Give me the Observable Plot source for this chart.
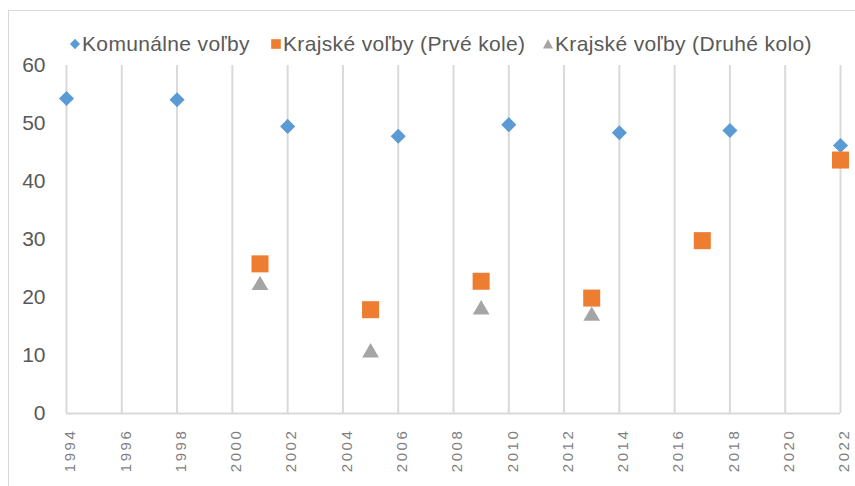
<!DOCTYPE html>
<html>
<head>
<meta charset="utf-8">
<script src="https://cdn.jsdelivr.net/npm/d3@7"></script>
<script src="https://cdn.jsdelivr.net/npm/@observablehq/plot@0.6"></script>
<style>
  html, body { margin: 0; padding: 0; background: #fff; }
  #wrap { position: relative; width: 855px; height: 486px; overflow: hidden; font-family: "Liberation Sans", Arial, sans-serif; }
  #frame { position: absolute; left: 8px; top: 10px; width: 900px; height: 600px; border-left: 1.5px solid #d9d9d9; border-top: 1.5px solid #d9d9d9; box-sizing: border-box; }
  #chart { position: absolute; left: 0; top: 0; }
  .leg { position: absolute; top: 31px; height: 26px; display: flex; align-items: center; font-size: 21px; letter-spacing: 0.35px; color: #595959; white-space: nowrap; }
  .leg svg { margin-right: 2px; }
  g.xlab text { letter-spacing: 2.6px; }
</style>
</head>
<body>
<div id="wrap">
  <div id="frame"></div>
  <div id="chart"></div>
  <div id="legend"></div>
</div>
<script>
const seriesNames = ["Komunálne voľby", "Krajské voľby (Prvé kole)", "Krajské voľby (Druhé kolo)"];
const colors = ["#5B9BD5", "#ED7D31", "#A5A5A5"];

const komYears = [1994, 1998, 2002, 2006, 2010, 2014, 2018, 2022];
const komValues = [54.3, 54.1, 49.5, 47.8, 49.8, 48.4, 48.8, 46.2];

const kraj1Years = [2001, 2005, 2009, 2013, 2017, 2022];
const kraj1Values = [25.8, 17.9, 22.8, 19.9, 29.8, 43.7];

const kraj2Years = [2001, 2005, 2009, 2013];
const kraj2Values = [22.5, 10.9, 18.3, 17.2];

const xTicks = [1994, 1996, 1998, 2000, 2002, 2004, 2006, 2008, 2010, 2012, 2014, 2016, 2018, 2020, 2022];
const yTicks = [0, 10, 20, 30, 40, 50, 60];

const kom = komYears.map((x, i) => ({x, y: komValues[i]}));
const kraj1 = kraj1Years.map((x, i) => ({x, y: kraj1Values[i]}));
const kraj2 = kraj2Years.map((x, i) => ({x, y: kraj2Values[i]}));

const plot = Plot.plot({
  width: 855,
  height: 486,
  marginLeft: 66,
  marginRight: 15,
  marginTop: 65,
  marginBottom: 73,
  style: { background: "transparent", fontFamily: "'Liberation Sans', Arial, sans-serif" },
  x: { domain: [1994, 2022], axis: null },
  y: { domain: [0, 60], axis: null },
  marks: [
    Plot.ruleX(xTicks, { x: d => d, y1: 0, y2: 60, stroke: "#d9d9d9", strokeWidth: 2 }),
    Plot.ruleY([0], { x1: 1994, x2: 2022, stroke: "#d9d9d9", strokeWidth: 2 }),
    Plot.text(yTicks, { x: 1994, y: d => d, text: d => String(d), textAnchor: "end", dx: -21, fontSize: 21, fill: "#595959" }),
    Plot.text(xTicks, { x: d => d, y: 0, text: d => String(d), rotate: -90, textAnchor: "end", dx: 4, dy: 15, fontSize: 15, fill: "#7f7f7f" }),
    Plot.dot(kom, { x: "x", y: "y", symbol: "diamond2", r: 6.8, fill: colors[0], stroke: "none" }),
    Plot.dot(kraj1, { x: "x", y: "y", symbol: "square", r: 9.6, fill: colors[1], stroke: "none" }),
    Plot.dot(kraj2, { x: "x", y: "y", symbol: "triangle", r: 6.2, fill: colors[2], stroke: "none", dy: 2.3 })
  ]
});
document.getElementById("chart").appendChild(plot);

// letter-spacing on x tick labels
plot.querySelectorAll("g").forEach(g => {
  if (g.getAttribute("font-size") === "15") g.classList.add("xlab");
});

const legendLefts = [70, 271, 543];
const markerSvgs = [
  c => `<svg width="10" height="12" viewBox="-5 -6 10 12"><path d="M0,-5.2L5,0L0,5.2L-5,0Z" fill="${c}"/></svg>`,
  c => `<svg width="10" height="12" viewBox="-5 -6 10 12"><rect x="-4.8" y="-4.8" width="9.6" height="9.6" fill="${c}"/></svg>`,
  c => `<svg width="10" height="12" viewBox="-5 -6 10 12"><path d="M0,-5L5,4.5L-5,4.5Z" fill="${c}"/></svg>`
];
const leg = document.getElementById("legend");
seriesNames.forEach((name, i) => {
  const d = document.createElement("div");
  d.className = "leg";
  d.style.left = legendLefts[i] + "px";
  d.innerHTML = markerSvgs[i](colors[i]) + `<span>${name}</span>`;
  leg.appendChild(d);
});
</script>
</body>
</html>
